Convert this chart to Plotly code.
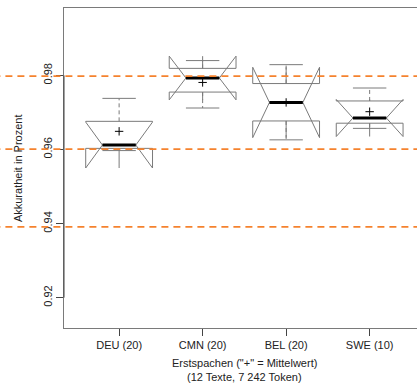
import plotly.graph_objects as go

# ---- data ----
categories = ["DEU (20)", "CMN (20)", "BEL (20)", "SWE (10)"]
lower_whisker = [0.9597, 0.9712, 0.9626, 0.9657]
q1 = [0.9603, 0.9755, 0.9677, 0.9671]
median = [0.9612, 0.9793, 0.9727, 0.9685]
q3 = [0.9676, 0.9819, 0.9778, 0.9731]
upper_whisker = [0.9738, 0.9840, 0.9829, 0.9766]
notch_half = [0.0062, 0.0059, 0.0095, 0.0050]
mean = [0.9649, 0.9781, 0.9727, 0.9702]
reference_lines = [0.9798, 0.9601, 0.9391]
y_tick_values = [0.92, 0.94, 0.96, 0.98]
y_tick_labels = ["0.92", "0.94", "0.96", "0.98"]
y_title = "Akkuratheit in Prozent"
x_title_lines = ['Erstspachen ("+" = Mittelwert)', "(12 Texte, 7 242 Token)"]

positions = list(range(1, len(categories) + 1))
BOX_W = 0.8
HALF_NOTCH = BOX_W / 4  # median / staple half-width

GRAY = "#7a7a7a"
FONT = "Liberation Sans, Arial, Helvetica, sans-serif"

fig = go.Figure()

fig.add_trace(go.Box(
    x=positions, q1=q1, median=median, q3=q3,
    lowerfence=q1, upperfence=q3,
    notchspan=notch_half, notched=True, notchwidth=0.25,
    width=BOX_W, whiskerwidth=0,
    line=dict(color=GRAY, width=1), fillcolor="rgba(0,0,0,0)",
    boxpoints=False, showlegend=False, hoverinfo="skip",
))

# whiskers (dashed)
wx, wy = [], []
for p, a, b, c, d in zip(positions, lower_whisker, q1, q3, upper_whisker):
    wx += [p, p, None, p, p, None]
    wy += [c, d, None, b, a, None]
fig.add_trace(go.Scatter(x=wx, y=wy, mode="lines",
                         line=dict(color=GRAY, width=1, dash="4px,3px"),
                         showlegend=False, hoverinfo="skip"))

# staples
sx, sy = [], []
for p, a, d in zip(positions, lower_whisker, upper_whisker):
    sx += [p - HALF_NOTCH, p + HALF_NOTCH, None, p - HALF_NOTCH, p + HALF_NOTCH, None]
    sy += [d, d, None, a, a, None]
fig.add_trace(go.Scatter(x=sx, y=sy, mode="lines",
                         line=dict(color=GRAY, width=1),
                         showlegend=False, hoverinfo="skip"))

# medians (thick)
mx, my = [], []
for p, m in zip(positions, median):
    mx += [p - HALF_NOTCH, p + HALF_NOTCH, None]
    my += [m, m, None]
fig.add_trace(go.Scatter(x=mx, y=my, mode="lines",
                         line=dict(color="black", width=3),
                         showlegend=False, hoverinfo="skip"))

# means
fig.add_trace(go.Scatter(x=positions, y=mean, mode="markers",
                         marker=dict(symbol="cross-thin", size=6,
                                     line=dict(color="black", width=1)),
                         showlegend=False, hoverinfo="skip"))

# reference lines across the whole figure
for v in reference_lines:
    fig.add_shape(type="line", xref="paper", yref="y", x0=-0.2, x1=1.05,
                  y0=v, y1=v, line=dict(color="#F5822E", width=1.8, dash="7px,5px"),
                  layer="above")

# darker axis segment between first and last tick
fig.add_shape(type="line", xref="paper", yref="y", x0=0, x1=0,
              y0=y_tick_values[0], y1=y_tick_values[-1],
              line=dict(color="#444", width=1), layer="above")

# titles
fig.add_annotation(text=y_title, xref="paper", yref="paper", x=-0.13, y=0.5,
                   textangle=-90, showarrow=False, xanchor="center", yanchor="middle",
                   font=dict(size=11, color="#222", family=FONT))
fig.add_annotation(text=x_title_lines[0], xref="x", yref="paper", x=2.5, y=-0.110,
                   showarrow=False, xanchor="center", yanchor="middle",
                   font=dict(size=11, color="#222", family=FONT))
fig.add_annotation(text=x_title_lines[1], xref="x", yref="paper", x=2.5, y=-0.152,
                   showarrow=False, xanchor="center", yanchor="middle",
                   font=dict(size=11, color="#222", family=FONT))

fig.update_layout(
    width=417, height=384,
    margin=dict(l=64, r=0, t=8, b=56),
    paper_bgcolor="white", plot_bgcolor="white",
    font=dict(family=FONT, size=11, color="#222"),
    showlegend=False,
    xaxis=dict(range=[0.34, 4.567], tickvals=positions, ticktext=categories,
               showgrid=False, zeroline=False, showline=True, mirror=True,
               linecolor=GRAY, linewidth=1, ticks="outside", ticklen=7,
               tickcolor="#444", tickfont=dict(size=11, color="#222")),
    yaxis=dict(range=[0.9118, 0.9982], tickvals=y_tick_values, ticktext=y_tick_labels,
               showgrid=False, zeroline=False, showline=True, mirror=False,
               linecolor=GRAY, linewidth=1, ticks="outside", ticklen=7,
               tickcolor="#444", tickangle=-90, tickfont=dict(size=11, color="#222")),
)

fig.write_html("out.html", config={"displayModeBar": False},
               post_script="document.body.style.margin='0';document.body.style.overflow='hidden';")
